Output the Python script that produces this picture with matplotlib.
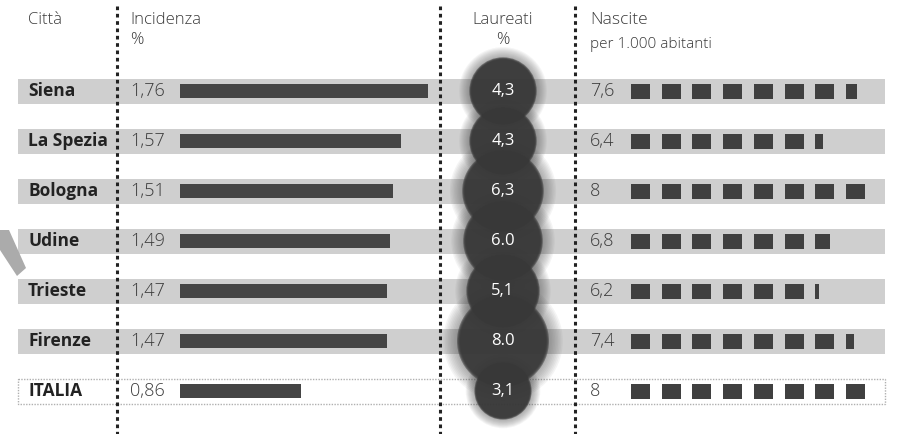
import matplotlib.pyplot as plt
from matplotlib.patches import Rectangle, Circle, Polygon
import numpy as np

citta = ["Siena", "La Spezia", "Bologna", "Udine", "Trieste", "Firenze", "ITALIA"]
incidenza = [1.76, 1.57, 1.51, 1.49, 1.47, 1.47, 0.86]
laureati = [4.3, 4.3, 6.3, 6.0, 5.1, 8.0, 3.1]
nascite = [7.6, 6.4, 8, 6.8, 6.2, 7.4, 8]


def fmt(v, nd):
    return f"{v:.{nd}f}".replace(".", ",")


inc_lbl = [fmt(v, 2) for v in incidenza]
lau_lbl = ["4,3", "4,3", "6,3", "6.0", "5,1", "8.0", "3,1"]
nas_lbl = ["7,6", "6,4", "8", "6,8", "6,2", "7,4", "8"]

W, H = 898, 434
fig = plt.figure(figsize=(W / 100, H / 100), dpi=100)
ax = fig.add_axes([0, 0, 1, 1])
ax.set_xlim(0, W)
ax.set_ylim(H, 0)
ax.axis("off")

plt.rcParams['font.family'] = ['Open Sans', 'DejaVu Sans']

y0, dy = 91, 50
band_x0, band_x1, band_h = 18, 885, 25
col1, col2, col3 = 117, 440, 575
bar_x0, bar_scale, bar_h = 180, 141, 14
circ_x, r_max = 503, 46
sq_x0, sq_pitch, sq_w, sq_h = 631, 30.7, 19, 15
txt = "#222222"
light = "#3a3a3a"

rows = [y0 + i * dy for i in range(len(citta))]

# bands
for i, y in enumerate(rows):
    if citta[i] == "ITALIA":
        ax.add_patch(Rectangle((band_x0, y - band_h / 2), band_x1 - band_x0, band_h,
                               facecolor="white", edgecolor="#b0b0b0", lw=1, ls=(0, (1, 1)), zorder=1))
    else:
        ax.add_patch(Rectangle((band_x0, y - band_h / 2), band_x1 - band_x0, band_h,
                               facecolor="#cfcfcf", edgecolor="none", zorder=1))

# little grey arrow at the left edge
ax.add_patch(Polygon([[0, 230], [9, 230], [26, 268], [17, 276], [0, 250]],
                     closed=True, facecolor="#ababab", edgecolor="none", zorder=1))

# dotted column separators
for x in (col1, col2, col3):
    ax.plot([x, x], [6, H], color="#222222", lw=2.2, ls=(0, (1.2, 1.2)), zorder=2)

# headers
ax.text(28, 20, "Città", fontsize=12, color=light, va="center", fontweight="light")
ax.text(130, 20, "Incidenza", fontsize=12, color=light, va="center", fontweight="light")
ax.text(130, 40, "%", fontsize=12, color=light, va="center", fontweight="light")
ax.text(circ_x, 20, "Laureati", fontsize=12, color=light, va="center", ha="center", fontweight="light")
ax.text(circ_x, 40, "%", fontsize=12, color=light, va="center", ha="center", fontweight="light")
ax.text(590, 20, "Nascite", fontsize=12.5, color=light, va="center", fontweight="light")
ax.text(590, 44, "per 1.000 abitanti", fontsize=11, color=light, va="center", fontweight="light")

for i, y in enumerate(rows):
    ax.text(28, y, citta[i], fontsize=12.5, fontweight="bold", color=txt, va="center", zorder=5)
    # incidenza
    ax.text(130, y, inc_lbl[i], fontsize=13, color=light, va="center", fontweight="light", zorder=5)
    ax.add_patch(Rectangle((bar_x0, y - bar_h / 2), incidenza[i] * bar_scale, bar_h,
                           facecolor="#454545", edgecolor="none", zorder=3))
    # nascite
    ax.text(590, y, nas_lbl[i], fontsize=13, color=light, va="center", fontweight="light", zorder=5)
    v = nascite[i]
    n_full = int(np.floor(v))
    for k in range(int(np.ceil(v))):
        w = sq_w if k < n_full else sq_w * (v - n_full)
        ax.add_patch(Rectangle((sq_x0 + k * sq_pitch, y - sq_h / 2), w, sq_h,
                               facecolor="#404040", edgecolor="none", zorder=3))

# laureati circles, area proportional to value, soft edges
radii = [r_max * np.sqrt(v / max(laureati)) for v in laureati]
for i, y in enumerate(rows):
    for s in np.linspace(1.3, 1.0, 10):
        ax.add_patch(Circle((circ_x, y), radii[i] * s, facecolor="#505050", edgecolor="none",
                            alpha=0.06, zorder=4))
for i, y in enumerate(rows):
    for s in np.linspace(1.0, 0.94, 4):
        ax.add_patch(Circle((circ_x, y), radii[i] * s, facecolor="#383838", edgecolor="none",
                            alpha=0.5, zorder=4))
for i, y in enumerate(rows):
    ax.text(circ_x, y, lau_lbl[i], fontsize=12, color="white", ha="center", va="center", zorder=6)

fig.savefig("out.png", dpi=100)
